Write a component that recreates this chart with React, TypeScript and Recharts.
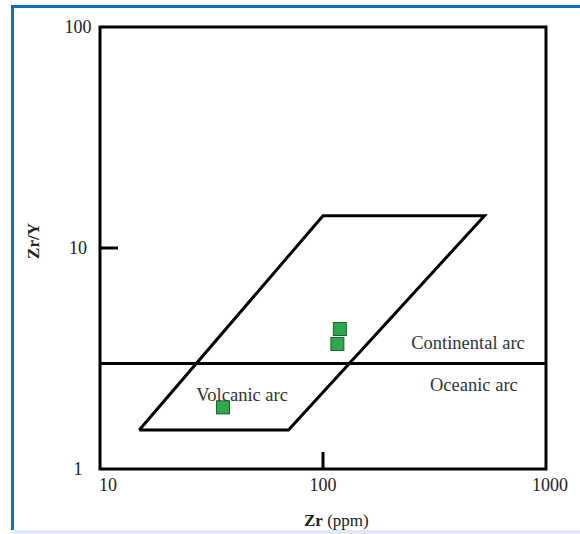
import React from "react";
import {
  ScatterChart,
  Scatter,
  XAxis,
  YAxis,
  ReferenceArea,
  ReferenceLine,
  ReferenceDot,
} from "recharts";

// Zr (ppm) vs Zr/Y samples
const samples = [
  { zr: 35.6, zry: 1.9 },
  { zr: 119, zry: 4.3 },
  { zr: 116, zry: 3.68 },
];

// volcanic arc field (closed polygon)
const volcanicField = [
  { zr: 15, zry: 1.5 },
  { zr: 70, zry: 1.5 },
  { zr: 530, zry: 14 },
  { zr: 100, zry: 14 },
  { zr: 15, zry: 1.5 },
];

const arcDivide = 3;
const xTicks = [10, 100, 1000];
const yTicks = [1, 10, 100];
const xTickMarks = [100];
const yTickMarks = [10];

const fieldLabels = [
  { zr: 447, zry: 3.72, text: "Continental arc" },
  { zr: 475, zry: 2.4, text: "Oceanic arc" },
  { zr: 43.4, zry: 2.18, text: "Volcanic arc" },
];

const FONT = "'Liberation Serif', 'Times New Roman', serif";
const TICK_MARGIN = 10;

// small nudges so the tick labels sit like the printed figure
const xLabelShift: Record<number, number> = { 10: 8, 100: 0, 1000: 4 };

const XTick = (props: any) => {
  const { x, y, payload } = props;
  const axisY = y - TICK_MARGIN;
  return (
    <g>
      {xTickMarks.includes(payload.value) && (
        <line x1={x} y1={axisY} x2={x} y2={axisY - 17} stroke="#000" strokeWidth={3} />
      )}
      <text
        x={x + (xLabelShift[payload.value] || 0)}
        y={axisY + 22}
        textAnchor="middle"
        fontFamily={FONT}
        fontSize={18}
        fill="#222"
      >
        {payload.value}
      </text>
    </g>
  );
};

const YTick = (props: any) => {
  const { x, y, payload } = props;
  const axisX = x + TICK_MARGIN;
  return (
    <g>
      {yTickMarks.includes(payload.value) && (
        <line x1={axisX} y1={y} x2={axisX + 18} y2={y} stroke="#000" strokeWidth={3} />
      )}
      <text x={axisX - 22} y={y + 6} textAnchor="middle" fontFamily={FONT} fontSize={18} fill="#222">
        {payload.value}
      </text>
    </g>
  );
};

const Square = (props: any) => {
  const { cx, cy } = props;
  return (
    <rect x={cx - 6.5} y={cy - 6.5} width={13} height={13} fill="#2ea84c" stroke="#1f5f2c" strokeWidth={1} />
  );
};

const Nothing = () => <g />;

export default function App() {
  return (
    <div
      style={{
        position: "fixed",
        left: 0,
        top: 0,
        width: 580,
        height: 534,
        background: "#fff",
        overflow: "hidden",
      }}
    >
      <div
        style={{
          position: "absolute",
          left: 11,
          top: 5,
          right: 0,
          bottom: 4,
          borderTop: "3px solid #0b6ec5",
          borderLeft: "3px solid #0b6ec5",
        }}
      />
      <div
        style={{
          position: "absolute",
          left: 14,
          bottom: 0,
          right: 0,
          height: 4,
          background: "#dfeaf6",
        }}
      />
      <div style={{ position: "absolute", left: 0, top: 0 }}>
        <ScatterChart width={580} height={534} margin={{ top: 27, right: 34, bottom: 35, left: 0 }}>
          <XAxis
            type="number"
            dataKey="zr"
            scale="log"
            domain={[10, 1000]}
            allowDataOverflow
            ticks={xTicks}
            tickSize={0}
            tickMargin={TICK_MARGIN}
            axisLine={false}
            tick={<XTick />}
            height={30}
          />
          <YAxis
            type="number"
            dataKey="zry"
            scale="log"
            domain={[1, 100]}
            allowDataOverflow
            ticks={yTicks}
            tickSize={0}
            tickMargin={TICK_MARGIN}
            axisLine={false}
            tick={<YTick />}
            width={100}
          />
          <ReferenceArea
            x1={10}
            x2={1000}
            y1={1}
            y2={100}
            fill="none"
            stroke="#000"
            strokeWidth={3}
            ifOverflow="visible"
          />
          <ReferenceLine y={arcDivide} stroke="#000" strokeWidth={3} />
          <Scatter
            data={volcanicField}
            line={{ stroke: "#000", strokeWidth: 3 }}
            lineType="joint"
            shape={<Nothing />}
            isAnimationActive={false}
          />
          {fieldLabels.map((l) => (
            <ReferenceDot
              key={l.text}
              x={l.zr}
              y={l.zry}
              r={0}
              stroke="none"
              fill="none"
              label={(p: any) => {
                const vb = p.viewBox || {};
                const cx = vb.x + (vb.width || 0) / 2;
                const cy = vb.y + (vb.height || 0) / 2;
                return (
                  <text
                    x={cx}
                    y={cy + 6.5}
                    textAnchor="middle"
                    fontFamily={FONT}
                    fontSize={18.5}
                    fill="#333"
                  >
                    {l.text}
                  </text>
                );
              }}
            />
          ))}
          <Scatter data={samples} shape={<Square />} isAnimationActive={false} />
        </ScatterChart>
      </div>
      <div
        style={{
          position: "absolute",
          left: 16,
          top: 241,
          transform: "translate(0, -50%) rotate(-90deg)",
          transformOrigin: "center",
          fontFamily: FONT,
          fontWeight: "bold",
          fontSize: 17,
          color: "#222",
          whiteSpace: "nowrap",
        }}
      >
        Zr/Y
      </div>
      <div
        style={{
          position: "absolute",
          left: 304,
          top: 511,
          fontFamily: FONT,
          fontSize: 17,
          color: "#222",
          whiteSpace: "nowrap",
        }}
      >
        <b>Zr</b> (ppm)
      </div>
    </div>
  );
}
